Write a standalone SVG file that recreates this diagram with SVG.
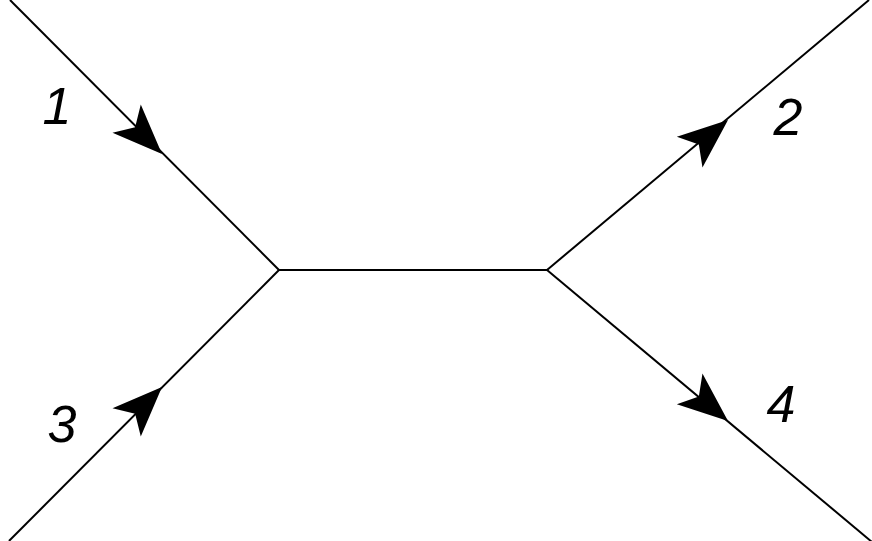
<svg xmlns="http://www.w3.org/2000/svg" width="872" height="541" viewBox="0 0 872 541">
<style>
.ln{stroke:#000;stroke-width:2;fill:none}
.lbl{font-family:"Liberation Sans",Arial,sans-serif;font-style:italic;font-size:52px;fill:#000;text-anchor:middle}
.ah{fill:#000}
</style>
<defs>
<path id="arr" d="M0,0 L-50,-20 L-38,0 L-50,20 Z"/>
</defs>
<rect width="872" height="541" fill="#fff"/>
<g id="connectors">
<line class="ln" x1="10" y1="0" x2="279" y2="270"/>
<line class="ln" x1="279" y1="270" x2="9" y2="541"/>
<line class="ln" x1="279" y1="270" x2="547" y2="270"/>
<line class="ln" x1="547" y1="270" x2="869" y2="0"/>
<line class="ln" x1="547" y1="270" x2="872" y2="542"/>
<use href="#arr" class="ah" transform="translate(162,154) rotate(45)"/>
<use href="#arr" class="ah" transform="translate(728,120) rotate(-39.9)"/>
<use href="#arr" class="ah" transform="translate(162,387) rotate(-45)"/>
<use href="#arr" class="ah" transform="translate(728,421) rotate(39.9)"/>
</g>
<g id="label1"><text class="lbl" x="57" y="124">1</text></g>
<g id="label2"><text class="lbl" x="788" y="135">2</text></g>
<g id="label3"><text class="lbl" x="62" y="442">3</text></g>
<g id="label4"><text class="lbl" x="781" y="422">4</text></g>
</svg>
